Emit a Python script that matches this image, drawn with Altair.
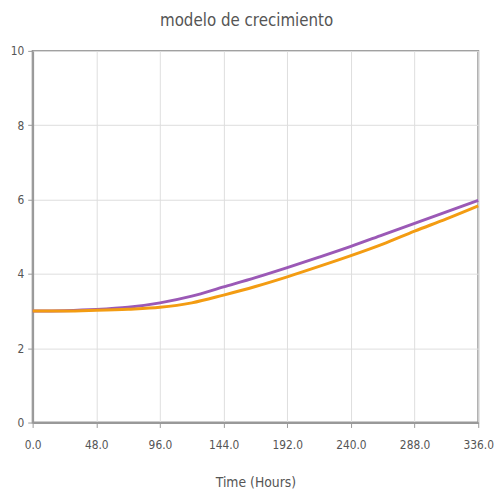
import altair as alt
import pandas as pd

hours = [0, 24, 48, 72, 96, 120, 144, 168, 192, 216, 240, 264, 288, 312, 336]
purple_vals = [3.0, 3.01, 3.04, 3.1, 3.22, 3.4, 3.65, 3.9, 4.17, 4.45, 4.74, 5.05, 5.36, 5.67, 5.98]
orange_vals = [3.0, 3.0, 3.02, 3.05, 3.1, 3.22, 3.43, 3.66, 3.92, 4.2, 4.49, 4.8, 5.15, 5.48, 5.83]
series_names = ["A", "B"]
series_colors = ["#9b59b6", "#f39c12"]
x_ticks = [0, 48, 96, 144, 192, 240, 288, 336]
y_ticks = [0, 2, 4, 6, 8, 10]

rows = []
for h, p, o in zip(hours, purple_vals, orange_vals):
    rows.append({"t": h, "v": p, "s": series_names[0]})
    rows.append({"t": h, "v": o, "s": series_names[1]})
df = pd.DataFrame(rows)

FONT = "Liberation Sans Narrow, DejaVu Sans Condensed, Roboto"

chart = alt.Chart(df).mark_line(strokeWidth=3, interpolate="monotone").encode(
    x=alt.X("t:Q", scale=alt.Scale(domain=[0, 336], nice=False),
            axis=alt.Axis(values=x_ticks, format=".1f", title="Time (Hours)",
                          labelPadding=12, titlePadding=26, labelFlush=False)),
    y=alt.Y("v:Q", scale=alt.Scale(domain=[0, 10], nice=False),
            axis=alt.Axis(values=y_ticks, format="d", title=None, labelPadding=4,
                          labelFlush=False)),
    color=alt.Color("s:N", scale=alt.Scale(domain=series_names, range=series_colors), legend=None),
).properties(
    width=452, height=377,
    title=alt.TitleParams("modelo de crecimiento", fontSize=17, font=FONT, color="#555",
                          fontWeight="normal", offset=15, dx=-9),
    autosize=alt.AutoSizeParams(type="none"),
    padding={"left": 25, "top": 40, "right": 17, "bottom": 70},
).configure_view(
    stroke="#999", strokeWidth=2
).configure_axis(
    labelFont=FONT, titleFont=FONT, labelFontSize=12, titleFontSize=14,
    labelColor="#555", titleColor="#555", titleFontWeight="normal",
    gridColor="#ddd", domainColor="#999", domainWidth=2, tickColor="#999",
    tickSize=5,
)

chart.save("out.html", embed_options={"renderer": "svg", "actions": False})
